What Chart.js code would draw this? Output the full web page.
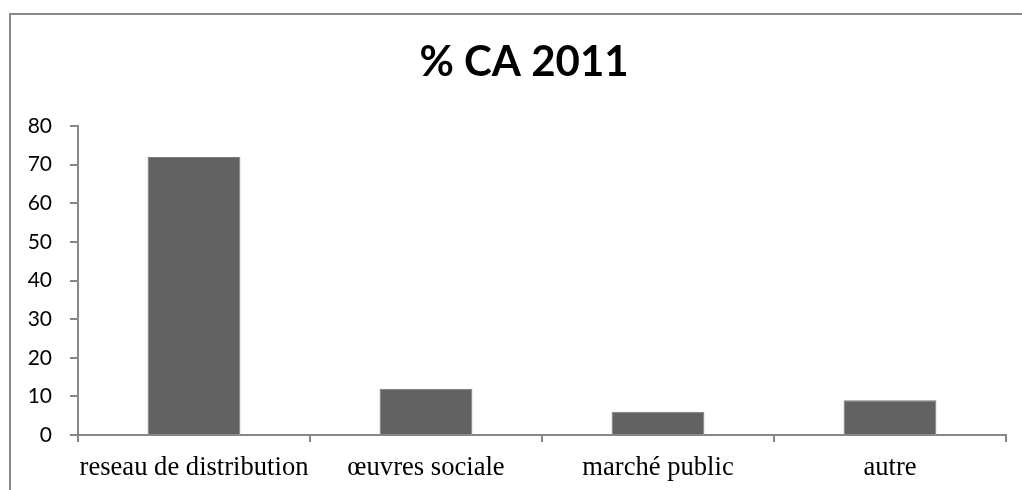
<!DOCTYPE html>
<html>
<head>
<meta charset="utf-8">
<script src="https://cdn.jsdelivr.net/npm/chart.js@4.4.1/dist/chart.umd.min.js"></script>
<style>
  html, body { margin: 0; padding: 0; background: #fff; overflow: hidden; }
  #caChart { display: block; }
</style>
</head>
<body>
<canvas id="caChart" width="1022" height="490"></canvas>
<script>
const title = '% CA 2011';
const categories = ['reseau de distribution', 'œuvres sociale', 'marché public', 'autre'];
const shares = [72, 12, 6, 9];
const yMin = 0;
const yMax = 80;
const yStep = 10;

// outer frame around the chart, and title centred a bit right like the original
const framePlugin = {
  id: 'frame',
  afterLayout(chart) {
    if (chart.titleBlock) chart.titleBlock.left += 42;
  },
  beforeDraw(chart) {
    const ctx = chart.ctx;
    ctx.save();
    ctx.fillStyle = '#fff';
    ctx.fillRect(0, 0, chart.width, chart.height);
    ctx.strokeStyle = '#888';
    ctx.lineWidth = 2;
    ctx.strokeRect(10, 14, chart.width + 20, chart.height + 20);
    ctx.restore();
  }
};

const ctx = document.getElementById('caChart').getContext('2d');
new Chart(ctx, {
  type: 'bar',
  data: {
    labels: categories,
    datasets: [{
      data: shares,
      backgroundColor: '#626262',
      borderColor: '#7a7a7a',
      borderWidth: 1,
      barPercentage: 0.4,
      categoryPercentage: 1
    }]
  },
  options: {
    responsive: false,
    animation: false,
    devicePixelRatio: 1,
    layout: { padding: { left: 0, right: 16, top: 0, bottom: 0 } },
    plugins: {
      legend: { display: false },
      tooltip: { enabled: false },
      title: {
        display: true,
        text: title,
        color: '#000',
        font: { family: 'Lato', size: 42, weight: 'bold', lineHeight: 1.2 },
        padding: { top: 37, bottom: 38.6 }
      }
    },
    scales: {
      x: {
        grid: { drawOnChartArea: false, drawTicks: true, tickLength: 7, color: '#888', lineWidth: 2 },
        border: { display: true, color: '#888', width: 2 },
        ticks: {
          color: '#000', padding: 10, autoSkip: false, maxRotation: 0, minRotation: 0,
          font: { family: 'Liberation Serif', size: 26.6 }
        },
        afterFit(scale) {
          scale.height = 55;
          scale.paddingLeft = 0;
          scale.paddingRight = 0;
        }
      },
      y: {
        min: yMin,
        max: yMax,
        grid: { drawOnChartArea: false, drawTicks: true, tickLength: 8, color: '#888', lineWidth: 2 },
        border: { display: true, color: '#888', width: 2 },
        ticks: { stepSize: yStep, color: '#000', padding: 18, font: { family: 'Lato', size: 21 } },
        afterFit(scale) {
          scale.width = 78;
          scale.paddingTop = 0;
          scale.paddingBottom = 0;
        }
      }
    }
  },
  plugins: [framePlugin]
});
</script>
</body>
</html>
